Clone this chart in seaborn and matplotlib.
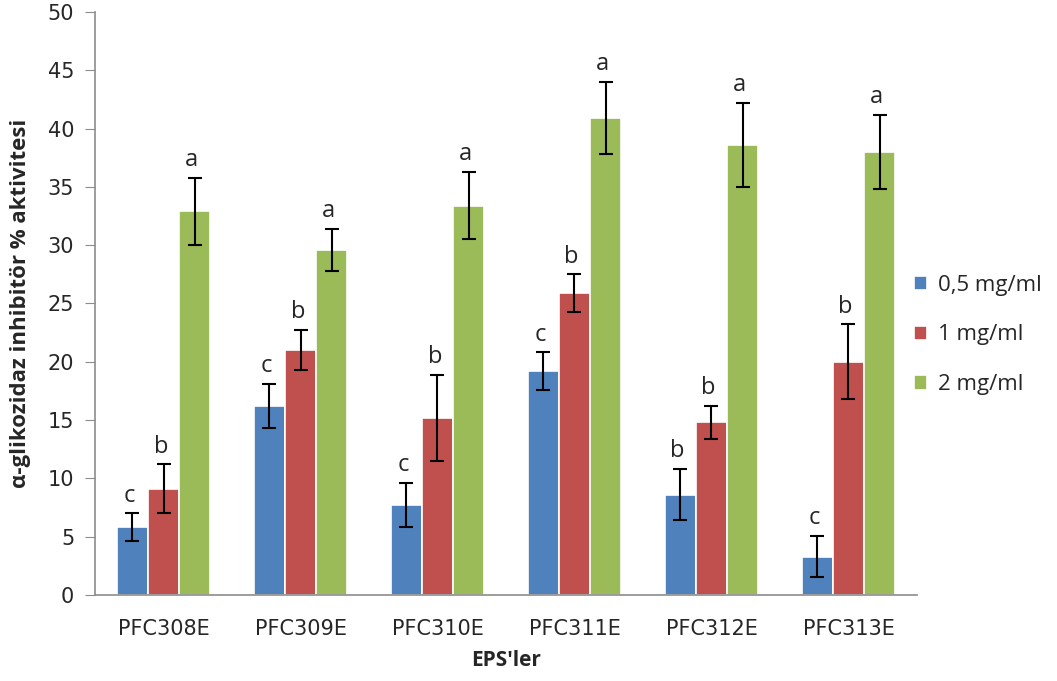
import matplotlib
matplotlib.use("Agg")
import matplotlib.pyplot as plt
import seaborn as sns
import pandas as pd
import numpy as np

categories = ["PFC308E", "PFC309E", "PFC310E", "PFC311E", "PFC312E", "PFC313E"]
series = ["0,5 mg/ml", "1 mg/ml", "2 mg/ml"]
vals_05 = [5.8, 16.2, 7.7, 19.2, 8.6, 3.3]
vals_1 = [9.1, 21.0, 15.2, 25.9, 14.8, 20.0]
vals_2 = [32.9, 29.6, 33.4, 40.9, 38.6, 38.0]
err_05 = [1.2, 1.9, 1.9, 1.6, 2.2, 1.8]
err_1 = [2.1, 1.7, 3.7, 1.6, 1.4, 3.2]
err_2 = [2.9, 1.8, 2.9, 3.1, 3.6, 3.2]
let_05 = ["c", "c", "c", "c", "b", "c"]
let_1 = ["b", "b", "b", "b", "b", "b"]
let_2 = ["a", "a", "a", "a", "a", "a"]
colors = ["#4F81BD", "#C0504D", "#9BBB59"]

rows = []
for s, v in zip(series, [vals_05, vals_1, vals_2]):
    for c, x in zip(categories, v):
        rows.append({"cat": c, "dose": s, "val": x})
df = pd.DataFrame(rows)

sns.set_style("white")
plt.rcParams["font.family"] = ["DejaVu Sans"]

fig = plt.figure(figsize=(10.57, 6.81), dpi=100)
ax = fig.add_axes([0.0899, 0.1263, 0.8675 - 0.0899, 0.9824 - 0.1263])

sns.barplot(data=df, x="cat", y="val", hue="dose", palette=colors, order=categories,
            hue_order=series, width=0.68, errorbar=None, ax=ax, edgecolor="white",
            linewidth=1.2, saturation=1)

errs = [err_05, err_1, err_2]
lets = [let_05, let_1, let_2]
vals = [vals_05, vals_1, vals_2]
bar_containers = list(ax.containers)
for hi, cont in enumerate(bar_containers):
    for ci, patch in enumerate(cont.patches):
        xc = patch.get_x() + patch.get_width() / 2
        h = vals[hi][ci]
        e = errs[hi][ci]
        ax.errorbar(xc, h, yerr=e, color="black", capsize=5, capthick=1.5, elinewidth=1.5)
        ax.text(xc - 0.02, h + e + 0.5, lets[hi][ci], ha="center", va="bottom",
                fontsize=17, family=["Open Sans", "DejaVu Sans"])

ax.set_ylim(0, 50)
ax.set_yticks(np.arange(0, 51, 5))
ax.set_xlim(-0.5, len(categories) - 0.5)
for sp in ["top", "right"]:
    ax.spines[sp].set_visible(False)
for sp in ["left", "bottom"]:
    ax.spines[sp].set_color("#8C8C8C")
    ax.spines[sp].set_linewidth(1.2)
ax.tick_params(axis="y", which="both", left=True, length=7, color="#8C8C8C", labelsize=15, pad=8)
ax.tick_params(axis="x", bottom=False, labelsize=15, pad=14)

ax.set_xlabel("EPS'ler", fontsize=15, fontweight="bold", family=["Open Sans", "DejaVu Sans"], labelpad=8)
ax.set_ylabel("α-glikozidaz inhibitör % aktivitesi", fontsize=16, fontweight="bold",
              family=["Open Sans", "DejaVu Sans"], labelpad=12)

leg = ax.legend(loc="center left", bbox_to_anchor=(0.972, 0.446), frameon=False,
                handlelength=0.6, handleheight=0.6, handletextpad=0.5,
                labelspacing=1.3, prop={"family": ["Open Sans", "DejaVu Sans"], "size": 16})

fig.savefig("out.png", dpi=100)
